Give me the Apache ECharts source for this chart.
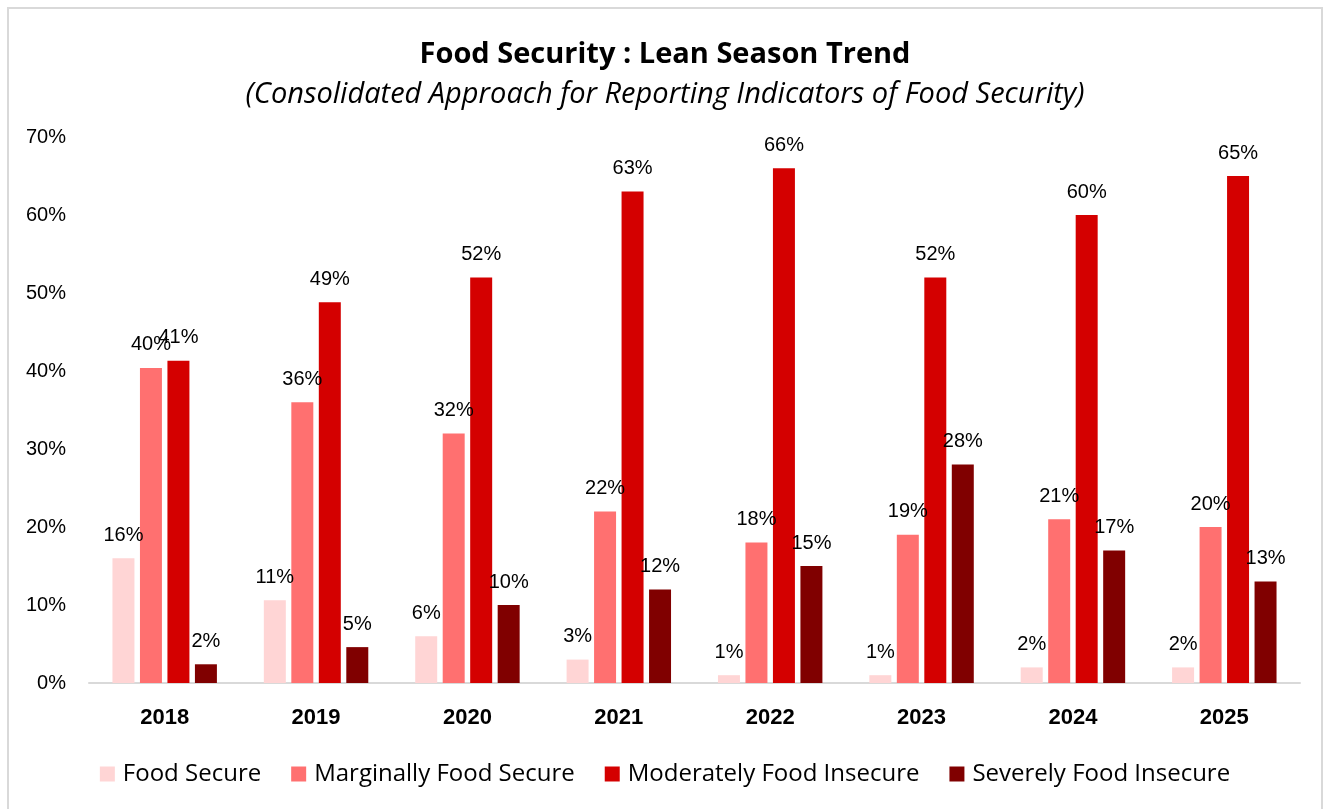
<!DOCTYPE html>
<html>
<head>
<meta charset="utf-8">
<script src="https://cdn.jsdelivr.net/npm/echarts@6/dist/echarts.min.js"></script>
<style>
html,body{margin:0;padding:0;background:#fff;}
#chart{width:1330px;height:809px;}
</style>
</head>
<body>
<div id="chart"></div>
<script>
const years = ['2018','2019','2020','2021','2022','2023','2024','2025'];
const foodSecure = [16, 10.6, 6, 3, 1, 1, 2, 2];
const marginallyFoodSecure = [40.4, 36, 32, 22, 18, 19, 21, 20];
const moderatelyFoodInsecure = [41.3, 48.8, 52, 63, 66, 52, 60, 65];
const severelyFoodInsecure = [2.4, 4.6, 10, 12, 15, 28, 17, 13];
const seriesNames = ['Food Secure','Marginally Food Secure','Moderately Food Insecure','Severely Food Insecure'];
const colors = ['#FFD5D5','#FF7070','#D40000','#800000'];
const yTicks = [0,10,20,30,40,50,60,70];

const chart = echarts.init(document.getElementById('chart'));
const allData = [foodSecure, marginallyFoodSecure, moderatelyFoodInsecure, severelyFoodInsecure];
const series = allData.map((d,i)=>({
  name: seriesNames[i],
  type: 'bar',
  data: d,
  barGap: '25%',
  barCategoryGap: '31%',
  itemStyle: {color: colors[i]},
  label: {
    show: true, position: 'top', distance: 13,
    formatter: p => Math.round(p.value) + '%',
    fontFamily: 'Liberation Sans', fontSize: 20, color: '#000'
  }
}));
chart.setOption({
  animation: false,
  backgroundColor: '#fff',
  graphic: [{type:'rect', shape:{x:8,y:8,width:1314,height:820}, style:{fill:'none', stroke:'#d9d9d9', lineWidth:2}, silent:true}],
  title: [{
    text: 'Food Security : Lean Season Trend',
    left: 'center', top: 35,
    textStyle: {fontFamily: 'Open Sans', fontWeight: 'bold', fontSize: 29, color: '#000'}
  },{
    text: '(Consolidated Approach for Reporting Indicators of Food Security)',
    left: 'center', top: 75,
    textStyle: {fontFamily: 'Open Sans', fontStyle: 'italic', fontWeight: 'normal', fontSize: 29, color: '#000'}
  }],
  legend: {
    bottom: 18, left: 'center',
    itemWidth: 15, itemHeight: 15, itemGap: 30,
    icon: 'rect',
    textStyle: {fontFamily: 'Open Sans', fontSize: 24, color: '#000', padding: [0,0,0,3]},
    data: seriesNames
  },
  grid: {left: 89, right: 30, top: 137, bottom: 126, containLabel: false},
  xAxis: {
    type: 'category', data: years,
    axisLine: {lineStyle: {color: '#d9d9d9', width: 2}},
    axisTick: {show: false},
    axisLabel: {fontFamily: 'Liberation Sans', fontWeight: 'bold', fontSize: 22, color: '#000', margin: 24}
  },
  yAxis: {
    type: 'value', min: yTicks[0], max: yTicks[yTicks.length-1], interval: 10,
    splitLine: {show: false},
    axisLine: {show: false}, axisTick: {show: false},
    axisLabel: {formatter: v => v + '%', fontFamily: 'Liberation Sans', fontSize: 20, color: '#000', margin: 23}
  },
  series: series
});
</script>
</body>
</html>
